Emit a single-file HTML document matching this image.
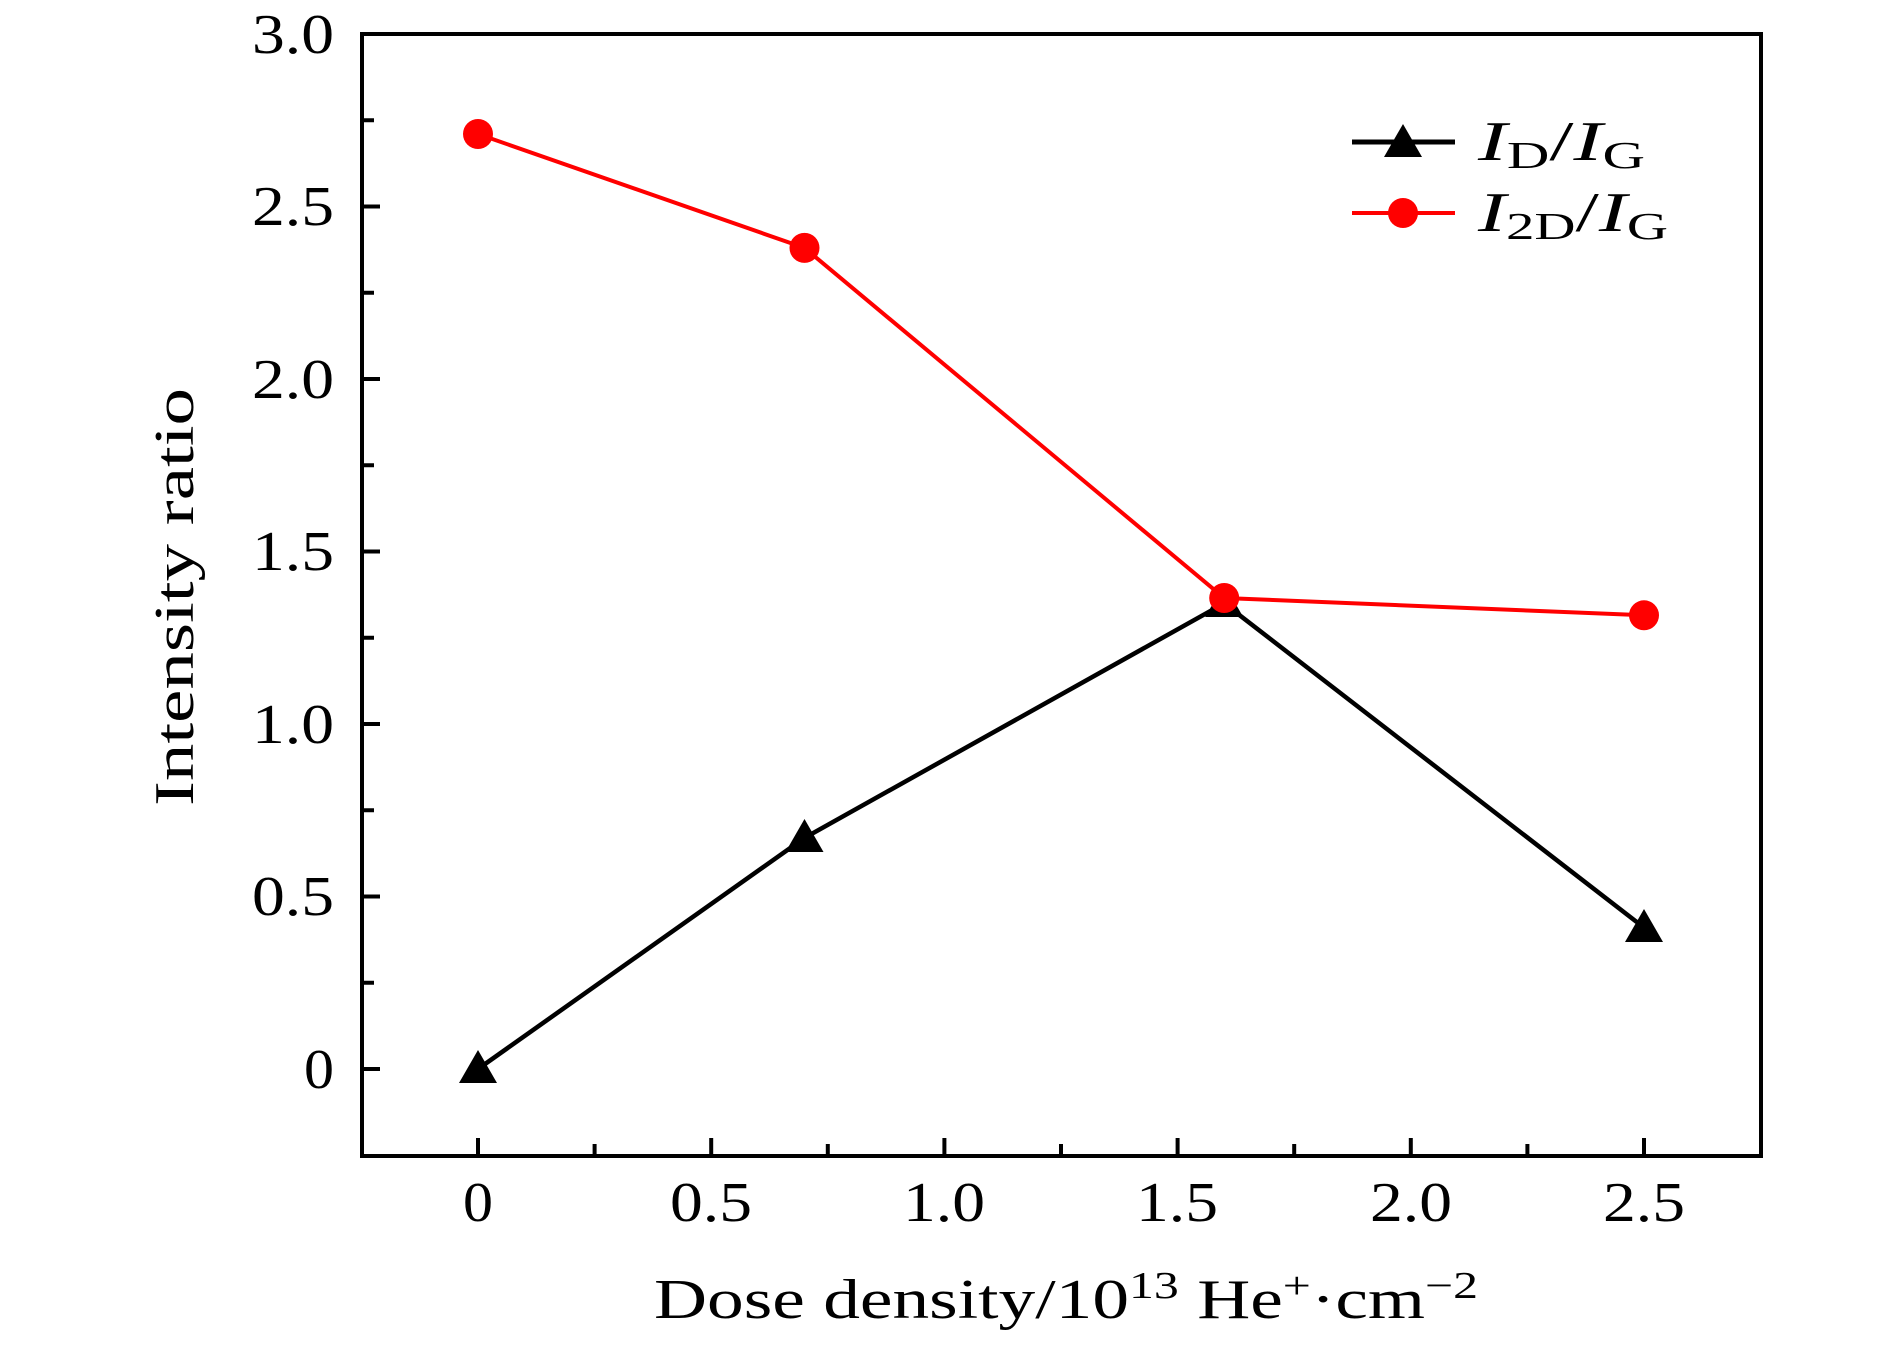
<!DOCTYPE html>
<html><head><meta charset="utf-8"><style>
html,body{margin:0;padding:0;background:#fff;}
svg{display:block;}
text{font-family:"Liberation Serif",serif;fill:#000;}
</style></head><body>
<svg width="1890" height="1347" viewBox="0 0 1890 1347" xmlns="http://www.w3.org/2000/svg">
<rect width="1890" height="1347" fill="#fff"/>
<g stroke="#000" stroke-width="4">
<line x1="478" y1="1156" x2="478" y2="1138"/>
<line x1="594.6" y1="1156" x2="594.6" y2="1144"/>
<line x1="711.2" y1="1156" x2="711.2" y2="1138"/>
<line x1="827.8" y1="1156" x2="827.8" y2="1144"/>
<line x1="944.4" y1="1156" x2="944.4" y2="1138"/>
<line x1="1061" y1="1156" x2="1061" y2="1144"/>
<line x1="1177.6" y1="1156" x2="1177.6" y2="1138"/>
<line x1="1294.2" y1="1156" x2="1294.2" y2="1144"/>
<line x1="1410.8" y1="1156" x2="1410.8" y2="1138"/>
<line x1="1527.4" y1="1156" x2="1527.4" y2="1144"/>
<line x1="1644" y1="1156" x2="1644" y2="1138"/>
<line x1="362" y1="1069" x2="380" y2="1069"/>
<line x1="362" y1="982.75" x2="374" y2="982.75"/>
<line x1="362" y1="896.5" x2="380" y2="896.5"/>
<line x1="362" y1="810.25" x2="374" y2="810.25"/>
<line x1="362" y1="724" x2="380" y2="724"/>
<line x1="362" y1="637.75" x2="374" y2="637.75"/>
<line x1="362" y1="551.5" x2="380" y2="551.5"/>
<line x1="362" y1="465.25" x2="374" y2="465.25"/>
<line x1="362" y1="379" x2="380" y2="379"/>
<line x1="362" y1="292.75" x2="374" y2="292.75"/>
<line x1="362" y1="206.5" x2="380" y2="206.5"/>
<line x1="362" y1="120.25" x2="374" y2="120.25"/>
</g>
<rect x="362" y="34" width="1399" height="1122" fill="none" stroke="#000" stroke-width="4"/>
<g font-size="56" text-anchor="end">
<text x="334" y="1088" textLength="30" lengthAdjust="spacingAndGlyphs">0</text>
<text x="334" y="915" textLength="82" lengthAdjust="spacingAndGlyphs">0.5</text>
<text x="334" y="743" textLength="82" lengthAdjust="spacingAndGlyphs">1.0</text>
<text x="334" y="570" textLength="82" lengthAdjust="spacingAndGlyphs">1.5</text>
<text x="334" y="398" textLength="82" lengthAdjust="spacingAndGlyphs">2.0</text>
<text x="334" y="225" textLength="82" lengthAdjust="spacingAndGlyphs">2.5</text>
<text x="334" y="53" textLength="82" lengthAdjust="spacingAndGlyphs">3.0</text>
</g>
<g font-size="56" text-anchor="middle">
<text x="478" y="1221" textLength="30" lengthAdjust="spacingAndGlyphs">0</text>
<text x="711" y="1221" textLength="82" lengthAdjust="spacingAndGlyphs">0.5</text>
<text x="944" y="1221" textLength="82" lengthAdjust="spacingAndGlyphs">1.0</text>
<text x="1177" y="1221" textLength="82" lengthAdjust="spacingAndGlyphs">1.5</text>
<text x="1411" y="1221" textLength="82" lengthAdjust="spacingAndGlyphs">2.0</text>
<text x="1644" y="1221" textLength="82" lengthAdjust="spacingAndGlyphs">2.5</text>
</g>
<text x="654" y="1318" font-size="56" textLength="824" lengthAdjust="spacingAndGlyphs">Dose density/10<tspan font-size="38" dy="-20">13</tspan><tspan dy="20"> He</tspan><tspan font-size="38" dy="-20">+</tspan><tspan dy="20">·cm</tspan><tspan font-size="38" dy="-20">−2</tspan></text>
<text transform="translate(193,597) rotate(-90)" font-size="56" text-anchor="middle" textLength="418" lengthAdjust="spacingAndGlyphs">Intensity ratio</text>
<polyline points="478,1069 804.5,837.9 1224.2,603.3 1644,927.6" fill="none" stroke="#000" stroke-width="4.5"/>
<polyline points="478,134 804.5,247.9 1224.2,598 1644,615.3" fill="none" stroke="#f00" stroke-width="4"/>
<g fill="#000">
<polygon points="478,1050 497,1083 459,1083"/>
<polygon points="804.5,819 823.5,852 785.5,852"/>
<polygon points="1224.2,584 1243.2,617 1205.2,617"/>
<polygon points="1644,909 1663,942 1625,942"/>
</g>
<g fill="#f00">
<circle cx="478" cy="134" r="15"/>
<circle cx="804.5" cy="247.9" r="15"/>
<circle cx="1224.2" cy="598" r="15"/>
<circle cx="1644" cy="615.3" r="15"/>
</g>
<line x1="1352" y1="142" x2="1455" y2="142" stroke="#000" stroke-width="5"/>
<polygon points="1403,124 1422,157 1384,157" fill="#000"/>
<line x1="1352" y1="213" x2="1455" y2="213" stroke="#f00" stroke-width="4"/>
<circle cx="1403" cy="213" r="15" fill="#f00"/>
<text x="1478" y="160" font-size="56" textLength="167" lengthAdjust="spacingAndGlyphs"><tspan font-style="italic">I</tspan><tspan font-size="38" dy="8">D</tspan><tspan dy="-8">/</tspan><tspan font-style="italic">I</tspan><tspan font-size="38" dy="8">G</tspan></text>
<text x="1478" y="231" font-size="56" textLength="190" lengthAdjust="spacingAndGlyphs"><tspan font-style="italic">I</tspan><tspan font-size="38" dy="8">2D</tspan><tspan dy="-8">/</tspan><tspan font-style="italic">I</tspan><tspan font-size="38" dy="8">G</tspan></text>
</svg>
</body></html>
